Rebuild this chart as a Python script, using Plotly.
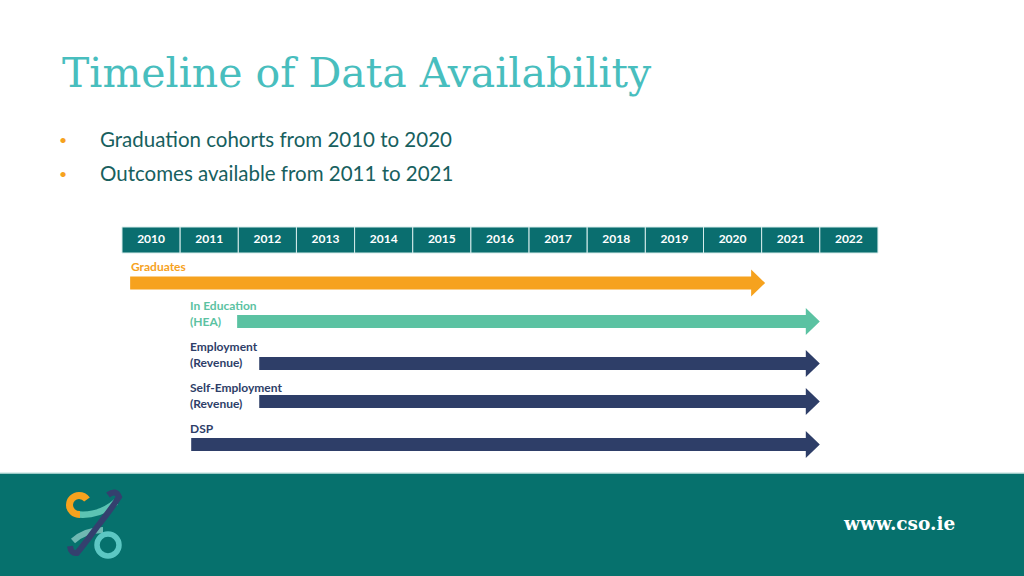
import plotly.graph_objects as go

# ---------------- data ----------------
years = list(range(2010, 2023))
series = ["Graduates", "In Education", "Employment", "Self-Employment", "DSP"]
sublabels = ["", "(HEA)", "(Revenue)", "(Revenue)", ""]
starts = [2010.14, 2011.98, 2012.36, 2012.36, 2011.19]
ends = [2021.06, 2022.0, 2022.0, 2022.0, 2022.0]
row_y = [283, 321.5, 363.5, 401.5, 444.5]
colors = ["#F6A21E", "#5BC2A2", "#2E3E68", "#2E3E68", "#2E3E68"]
label_colors = ["#F6A21E", "#5BC2A2", "#2E3E68", "#2E3E68", "#2E3E68"]
bullets = ["Graduation cohorts from 2010 to 2020", "Outcomes available from 2011 to 2021"]
title = "Timeline of Data Availability"

# ---------------- geometry helpers ----------------
W, H = 1024, 576
PX0, CELL = 122.0, 58.15
xr = [2010 - PX0 / CELL, 2010 + (W - PX0) / CELL]


def px2yr(px):
    return 2010 + (px - PX0) / CELL


TEAL = "#0A6E6F"
fig = go.Figure()

# footer band
fig.add_shape(type="rect", xref="paper", yref="paper", x0=0, x1=1, y0=0, y1=(H - 473) / H,
              fillcolor="#06716D", line_width=0, layer="below")
fig.add_shape(type="line", xref="paper", yref="paper", x0=0, x1=1, y0=(H - 473) / H, y1=(H - 473) / H,
              line=dict(color="#CFE8E6", width=1.5), layer="below")

# year header
for yv in years:
    fig.add_shape(type="rect", xref="x", yref="y", x0=yv, x1=yv + 1, y0=227, y1=253,
                  fillcolor=TEAL, line=dict(color="#D6ECEB", width=1), layer="below")
fig.add_trace(go.Scatter(x=[yv + 0.5 for yv in years], y=[240] * len(years), mode="text",
                         text=[f"<b>{yv}</b>" for yv in years],
                         textfont=dict(family="Lato", size=12, color="white"),
                         hoverinfo="skip", showlegend=False))

# arrows
half_shaft, half_head, head_len = 6.5, 13.5, 14 / CELL
for name, s, e, yc, c in zip(series, starts, ends, row_y, colors):
    hb = e - head_len
    xs = [s, hb, hb, e, hb, hb, s, s]
    ys = [yc - half_shaft, yc - half_shaft, yc - half_head, yc, yc + half_head,
          yc + half_shaft, yc + half_shaft, yc - half_shaft]
    fig.add_trace(go.Scatter(x=xs, y=ys, fill="toself", fillcolor=c, mode="lines",
                             line=dict(width=0, color=c), name=name,
                             hoverinfo="name", showlegend=False))

# arrow labels
label_x = [px2yr(129), px2yr(188), px2yr(188), px2yr(188), px2yr(188)]
label_y = [266, 313, 354, 395, 428]
for name, sub, lx, ly, lc in zip(series, sublabels, label_x, label_y, label_colors):
    txt = f"<b>{name}</b>" + (f"<br><b>{sub}</b>" if sub else "")
    fig.add_annotation(x=lx, y=ly, xref="x", yref="y", text=txt, showarrow=False,
                       xanchor="left", yanchor="middle", align="left",
                       font=dict(family="Lato", size=12, color=lc))

# title
fig.add_annotation(x=60 / W, y=1 - 73 / H, xref="paper", yref="paper", text=title,
                   showarrow=False, xanchor="left", yanchor="middle",
                   font=dict(family="DejaVu Serif", size=41, color="#48BEBE"))

# bullets
for i, b in enumerate(bullets):
    yy = 139 + 34 * i
    fig.add_annotation(x=63 / W, y=1 - yy / H, xref="paper", yref="paper", text="•",
                       showarrow=False, xanchor="center", yanchor="middle",
                       font=dict(family="Lato", size=14, color="#F6A21E"))
    fig.add_annotation(x=98 / W, y=1 - yy / H, xref="paper", yref="paper", text=b,
                       showarrow=False, xanchor="left", yanchor="middle",
                       font=dict(family="Lato", size=20.5, color="#17605E"))

# footer url
fig.add_annotation(x=957 / W, y=1 - 523 / H, xref="paper", yref="paper", text="<b>www.cso.ie</b>",
                   showarrow=False, xanchor="right", yanchor="middle",
                   font=dict(family="DejaVu Serif", size=18.5, color="white"))


# logo (pixel-space paths converted to paper coords)
def P(x, y):
    return f"{x / W:.5f},{1 - y / H:.5f}"


logo = [
    # light teal tail from upper C to right
    (f"M {P(79, 514.5)} Q {P(100, 516)} {P(116, 502)}", "#5CC3B3", 6.5),
    # orange C (circular arc)
    (f"M {P(87, 499.5)} Q {P(84, 495.5)} {P(79, 495.5)} "
     f"C {P(73.8, 495.5)} {P(69.5, 499.8)} {P(69.5, 505)} "
     f"C {P(69.5, 510.2)} {P(73.8, 514.5)} {P(80, 514.5)}", "#F6A21E", 7),
    # light teal lower tail
    (f"M {P(73, 541)} Q {P(85, 530)} {P(103, 530)}", "#6FB8B2", 6),
    # navy S stroke
    (f"M {P(108, 495)} Q {P(116, 489)} {P(119, 497)} Q {P(112, 508)} {P(97, 527)} Q {P(83, 546)} {P(77, 553)} Q {P(71, 554)} {P(70, 546)}",
     "#34406E", 6),
]
for path, col, w in logo:
    fig.add_shape(type="path", xref="paper", yref="paper", path=path,
                  line=dict(color=col, width=w), fillcolor="rgba(0,0,0,0)")
fig.add_shape(type="circle", xref="paper", yref="paper",
              x0=97 / W, x1=119 / W, y0=1 - 556 / H, y1=1 - 534 / H,
              line=dict(color="#5CC7C3", width=5.5), fillcolor="rgba(0,0,0,0)")

fig.update_layout(
    width=W, height=H, margin=dict(l=0, r=0, t=0, b=0),
    paper_bgcolor="white", plot_bgcolor="rgba(0,0,0,0)",
    xaxis=dict(range=xr, visible=False, fixedrange=True),
    yaxis=dict(range=[H, 0], visible=False, fixedrange=True),
    showlegend=False,
)

fig.write_html("out.html", config={"displayModeBar": False},
               post_script="document.body.style.margin='0';document.body.style.overflow='hidden';")
